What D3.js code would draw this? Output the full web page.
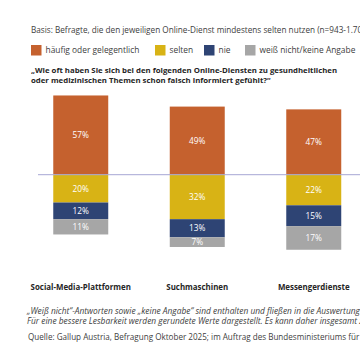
<!DOCTYPE html>
<html><head><meta charset="utf-8">
<script src="https://cdn.jsdelivr.net/npm/d3@7"></script>
<style>html,body{margin:0;padding:0;background:#fff;}svg{display:block;}</style>
</head><body>
<svg id="c" width="360" height="360"></svg>
<script>
const categories = ["Social-Media-Plattformen", "Suchmaschinen", "Messengerdienste"];
const seriesNames = ["häufig oder gelegentlich", "selten", "nie", "weiß nicht/keine Angabe"];
const haeufig = [57, 49, 47];
const selten = [20, 32, 22];
const nie = [12, 13, 15];
const weissNicht = [11, 7, 17];
const colors = ["#c5612e", "#d8b315", "#2e4474", "#a6a6a6"];
const basisText = "Basis: Befragte, die den jeweiligen Online-Dienst mindestens selten nutzen (n=943-1.700)";
const questionLines = ["„Wie oft haben Sie sich bei den folgenden Online-Diensten zu gesundheitlichen", "oder medizinischen Themen schon falsch informiert gefühlt?“"];
const footLines = ["„Weiß nicht“-Antworten sowie „keine Angabe“ sind enthalten und fließen in die Auswertung ein.", "Für eine bessere Lesbarkeit werden gerundete Werte dargestellt. Es kann daher insgesamt zu Abweichungen kommen."];
const sourceText = "Quelle: Gallup Austria, Befragung Oktober 2025; im Auftrag des Bundesministeriums für Soziales";

const svg = d3.select("#c");
const font = "'Open Sans', sans-serif";
const x = d3.scaleBand().domain(categories).range([22.5, 372]).paddingInner(0.528).paddingOuter(0.264);
const y = d3.scaleLinear().domain([-60, 60]).range([258.1, 91.3]);

svg.append("text").attr("x", 31).attr("y", 33).attr("font-family", font).attr("font-size", 8.2).attr("fill", "#404040").text(basisText);

const lx = [31, 155, 204, 245];
const leg = svg.append("g");
seriesNames.forEach((s, i) => {
  leg.append("rect").attr("x", lx[i]).attr("y", 45).attr("width", 10.5).attr("height", 10.5).attr("fill", colors[i]);
  leg.append("text").attr("x", lx[i] + 14.5).attr("y", 53.3).attr("font-family", font).attr("font-size", 8.4).attr("fill", "#404040").text(s);
});

questionLines.forEach((t, i) => {
  svg.append("text").attr("x", 31).attr("y", 73 + i * 9.5).attr("font-family", font).attr("font-size", 7.8).attr("font-weight", "bold").attr("fill", "#262626").text(t);
});

const rows = categories.map((c, i) => ({cat: c, segs: [
  {v: haeufig[i], y0: 0, y1: haeufig[i], k: 0},
  {v: selten[i], y0: -selten[i], y1: 0, k: 1},
  {v: nie[i], y0: -(selten[i] + nie[i]), y1: -selten[i], k: 2},
  {v: weissNicht[i], y0: -(selten[i] + nie[i] + weissNicht[i]), y1: -(selten[i] + nie[i]), k: 3}
]}));

const bars = svg.append("g");
rows.forEach(r => {
  r.segs.forEach(s => {
    bars.append("rect").attr("x", x(r.cat)).attr("width", x.bandwidth())
      .attr("y", y(s.y1)).attr("height", y(s.y0) - y(s.y1)).attr("fill", colors[s.k]);
    bars.append("text").attr("x", x(r.cat) + x.bandwidth() / 2).attr("y", (y(s.y0) + y(s.y1)) / 2 + 3)
      .attr("text-anchor", "middle").attr("font-family", font).attr("font-size", 8.3).attr("fill", "#fff").text(s.v + "%");
  });
});

svg.append("line").attr("x1", 38).attr("x2", 360).attr("y1", y(0)).attr("y2", y(0)).attr("stroke", "#a7a7d4").attr("stroke-width", 1);

const xAxis = d3.axisBottom(x).tickSize(0).tickPadding(0);
const ax = svg.append("g").attr("transform", "translate(0,285)").call(xAxis);
ax.select(".domain").remove();
ax.selectAll("text").attr("font-family", font).attr("font-size", 7.9).attr("font-weight", "bold").attr("fill", "#262626").attr("dy", "0.6em");

footLines.forEach((t, i) => {
  svg.append("text").attr("x", 27).attr("y", 314 + i * 9.5).attr("font-family", font).attr("font-size", 8.4).attr("font-style", "italic").attr("fill", "#404040").text(t);
});
svg.append("text").attr("x", 28).attr("y", 339.5).attr("font-family", font).attr("font-size", 8.1).attr("fill", "#404040").text(sourceText);
</script>
</body></html>
